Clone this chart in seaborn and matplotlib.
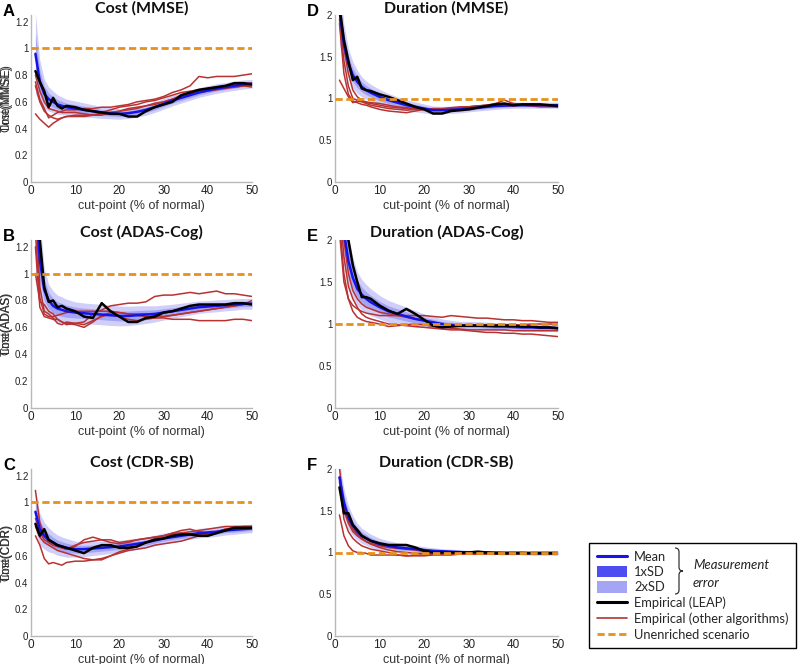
import matplotlib
matplotlib.use("Agg")
import matplotlib.pyplot as plt
import seaborn as sns
import numpy as np
from matplotlib.lines import Line2D
from matplotlib.patches import Patch, PathPatch
from matplotlib.path import Path

# ---------------- data ----------------
cut_points = [1, 2, 3, 4, 5, 6, 7, 8, 10, 12, 14, 16, 18, 20, 22, 24, 26, 28, 30,
              32, 34, 36, 38, 40, 42, 44, 46, 48, 50]
unenriched_level = 1.0

cost_mmse_mean = [0.96, 0.75, 0.66, 0.62, 0.60, 0.58, 0.57, 0.56, 0.55, 0.54, 0.53, 0.52, 0.515, 0.51, 0.515, 0.525, 0.54, 0.56, 0.585, 0.61, 0.63, 0.65, 0.67, 0.685, 0.70, 0.71, 0.72, 0.73, 0.735]
cost_mmse_sd = [0.15, 0.08, 0.055, 0.045, 0.04, 0.036, 0.033, 0.03, 0.028, 0.026, 0.024, 0.022, 0.021, 0.02, 0.02, 0.02, 0.02, 0.02, 0.02, 0.02, 0.019, 0.019, 0.018, 0.018, 0.018, 0.017, 0.017, 0.017, 0.016]
cost_mmse_leap = [0.83, 0.75, 0.68, 0.56, 0.63, 0.57, 0.55, 0.57, 0.56, 0.54, 0.53, 0.52, 0.51, 0.51, 0.49, 0.49, 0.53, 0.56, 0.58, 0.60, 0.65, 0.67, 0.69, 0.70, 0.71, 0.72, 0.74, 0.74, 0.73]
cost_mmse_other = [
    [0.75, 0.62, 0.55, 0.48, 0.50, 0.52, 0.53, 0.54, 0.54, 0.55, 0.55, 0.56, 0.56, 0.57, 0.58, 0.60, 0.61, 0.62, 0.64, 0.67, 0.69, 0.72, 0.79, 0.78, 0.79, 0.79, 0.79, 0.80, 0.81],
    [0.51, 0.47, 0.44, 0.41, 0.44, 0.46, 0.48, 0.49, 0.50, 0.50, 0.50, 0.52, 0.54, 0.56, 0.57, 0.58, 0.60, 0.61, 0.63, 0.65, 0.67, 0.68, 0.69, 0.70, 0.71, 0.72, 0.73, 0.74, 0.74],
    [0.80, 0.68, 0.60, 0.55, 0.54, 0.53, 0.52, 0.52, 0.52, 0.51, 0.50, 0.50, 0.52, 0.53, 0.55, 0.56, 0.57, 0.58, 0.60, 0.62, 0.64, 0.66, 0.68, 0.69, 0.70, 0.71, 0.71, 0.72, 0.72],
    [0.72, 0.60, 0.53, 0.50, 0.48, 0.47, 0.48, 0.49, 0.49, 0.49, 0.50, 0.51, 0.52, 0.53, 0.54, 0.55, 0.57, 0.59, 0.60, 0.62, 0.65, 0.66, 0.67, 0.68, 0.69, 0.70, 0.71, 0.72, 0.71],
]

cost_adas_mean = [1.60, 1.10, 0.88, 0.80, 0.76, 0.74, 0.73, 0.72, 0.71, 0.705, 0.70, 0.695, 0.69, 0.685, 0.685, 0.69, 0.695, 0.70, 0.71, 0.72, 0.73, 0.74, 0.75, 0.755, 0.76, 0.765, 0.77, 0.775, 0.775]
cost_adas_sd = [0.30, 0.15, 0.08, 0.06, 0.055, 0.05, 0.048, 0.045, 0.04, 0.038, 0.038, 0.038, 0.038, 0.037, 0.036, 0.035, 0.033, 0.03, 0.028, 0.026, 0.025, 0.024, 0.023, 0.022, 0.022, 0.021, 0.021, 0.02, 0.02]
cost_adas_leap = [1.60, 1.25, 0.90, 0.79, 0.80, 0.75, 0.76, 0.74, 0.72, 0.68, 0.67, 0.78, 0.72, 0.68, 0.64, 0.64, 0.67, 0.68, 0.71, 0.72, 0.74, 0.76, 0.77, 0.77, 0.77, 0.77, 0.78, 0.78, 0.77]
cost_adas_other = [
    [1.00, 0.79, 0.77, 0.72, 0.70, 0.66, 0.64, 0.63, 0.62, 0.60, 0.64, 0.69, 0.71, 0.71, 0.70, 0.69, 0.68, 0.67, 0.67, 0.66, 0.66, 0.66, 0.65, 0.65, 0.65, 0.65, 0.66, 0.66, 0.65],
    [1.20, 0.75, 0.68, 0.67, 0.66, 0.66, 0.64, 0.62, 0.63, 0.64, 0.70, 0.73, 0.76, 0.77, 0.78, 0.78, 0.79, 0.83, 0.84, 0.84, 0.85, 0.86, 0.85, 0.86, 0.87, 0.85, 0.85, 0.84, 0.83],
    [1.30, 0.82, 0.70, 0.68, 0.68, 0.69, 0.70, 0.71, 0.72, 0.72, 0.72, 0.72, 0.72, 0.71, 0.70, 0.70, 0.70, 0.69, 0.68, 0.69, 0.70, 0.71, 0.72, 0.73, 0.74, 0.75, 0.76, 0.77, 0.80],
    [1.50, 0.90, 0.72, 0.70, 0.67, 0.63, 0.62, 0.64, 0.63, 0.62, 0.65, 0.68, 0.70, 0.68, 0.66, 0.65, 0.66, 0.67, 0.68, 0.69, 0.70, 0.71, 0.72, 0.73, 0.74, 0.75, 0.76, 0.77, 0.78],
]

cost_cdr_mean = [0.93, 0.80, 0.75, 0.72, 0.70, 0.68, 0.67, 0.66, 0.65, 0.65, 0.655, 0.66, 0.665, 0.67, 0.68, 0.69, 0.70, 0.715, 0.73, 0.74, 0.75, 0.76, 0.77, 0.775, 0.78, 0.79, 0.795, 0.80, 0.805]
cost_cdr_sd = [0.07, 0.06, 0.05, 0.045, 0.04, 0.038, 0.036, 0.035, 0.03, 0.028, 0.026, 0.025, 0.024, 0.023, 0.022, 0.021, 0.02, 0.02, 0.02, 0.019, 0.019, 0.018, 0.018, 0.018, 0.017, 0.017, 0.017, 0.016, 0.016]
cost_cdr_leap = [0.84, 0.75, 0.80, 0.72, 0.70, 0.68, 0.67, 0.66, 0.64, 0.62, 0.66, 0.68, 0.68, 0.66, 0.66, 0.67, 0.70, 0.72, 0.73, 0.75, 0.76, 0.76, 0.75, 0.75, 0.77, 0.79, 0.81, 0.81, 0.81]
cost_cdr_other = [
    [1.09, 0.85, 0.75, 0.70, 0.68, 0.67, 0.66, 0.65, 0.68, 0.70, 0.71, 0.72, 0.72, 0.70, 0.71, 0.72, 0.73, 0.74, 0.75, 0.76, 0.77, 0.78, 0.79, 0.80, 0.81, 0.82, 0.82, 0.82, 0.82],
    [0.75, 0.68, 0.58, 0.54, 0.55, 0.54, 0.53, 0.55, 0.56, 0.56, 0.57, 0.58, 0.60, 0.62, 0.64, 0.65, 0.66, 0.68, 0.69, 0.70, 0.71, 0.73, 0.75, 0.76, 0.78, 0.80, 0.81, 0.82, 0.82],
    [0.82, 0.74, 0.70, 0.68, 0.66, 0.64, 0.63, 0.62, 0.60, 0.58, 0.57, 0.57, 0.60, 0.63, 0.65, 0.67, 0.70, 0.73, 0.75, 0.77, 0.77, 0.76, 0.76, 0.77, 0.78, 0.79, 0.80, 0.81, 0.82],
    [0.88, 0.78, 0.72, 0.70, 0.68, 0.67, 0.66, 0.65, 0.67, 0.72, 0.74, 0.72, 0.70, 0.69, 0.70, 0.72, 0.73, 0.74, 0.75, 0.77, 0.79, 0.80, 0.78, 0.77, 0.78, 0.80, 0.81, 0.81, 0.81],
]

time_mmse_mean = [2.05, 1.65, 1.42, 1.28, 1.20, 1.14, 1.10, 1.07, 1.02, 0.98, 0.95, 0.92, 0.90, 0.88, 0.86, 0.86, 0.865, 0.87, 0.88, 0.89, 0.90, 0.91, 0.915, 0.92, 0.92, 0.92, 0.92, 0.92, 0.92]
time_mmse_sd = [0.20, 0.12, 0.09, 0.08, 0.07, 0.06, 0.055, 0.05, 0.045, 0.04, 0.035, 0.032, 0.03, 0.027, 0.025, 0.023, 0.022, 0.021, 0.02, 0.02, 0.02, 0.02, 0.019, 0.019, 0.018, 0.018, 0.018, 0.018, 0.018]
time_mmse_leap = [2.10, 1.70, 1.45, 1.22, 1.26, 1.12, 1.10, 1.09, 1.05, 1.02, 0.98, 0.94, 0.90, 0.87, 0.82, 0.82, 0.85, 0.86, 0.87, 0.89, 0.91, 0.93, 0.94, 0.92, 0.93, 0.93, 0.93, 0.92, 0.91]
time_mmse_other = [
    [1.22, 1.12, 1.02, 0.95, 0.97, 0.96, 0.94, 0.92, 0.90, 0.88, 0.87, 0.86, 0.87, 0.88, 0.87, 0.87, 0.88, 0.89, 0.90, 0.91, 0.92, 0.94, 0.98, 0.94, 0.93, 0.92, 0.92, 0.92, 0.91],
    [1.90, 1.30, 1.05, 0.97, 0.95, 0.93, 0.92, 0.90, 0.87, 0.85, 0.84, 0.83, 0.85, 0.87, 0.88, 0.88, 0.89, 0.90, 0.90, 0.91, 0.91, 0.92, 0.92, 0.92, 0.92, 0.91, 0.90, 0.90, 0.90],
    [2.05, 1.60, 1.30, 1.10, 1.02, 0.98, 0.95, 0.94, 0.92, 0.90, 0.89, 0.88, 0.87, 0.87, 0.86, 0.87, 0.88, 0.89, 0.90, 0.91, 0.92, 0.92, 0.93, 0.93, 0.93, 0.93, 0.92, 0.92, 0.91],
    [1.95, 1.45, 1.15, 1.00, 0.98, 0.97, 0.96, 0.95, 0.94, 0.92, 0.90, 0.89, 0.88, 0.87, 0.87, 0.87, 0.88, 0.89, 0.89, 0.90, 0.91, 0.91, 0.91, 0.91, 0.92, 0.92, 0.92, 0.91, 0.90],
]

time_adas_mean = [2.60, 2.10, 1.75, 1.55, 1.42, 1.35, 1.30, 1.26, 1.20, 1.15, 1.12, 1.09, 1.06, 1.04, 1.02, 1.00, 0.99, 0.98, 0.98, 0.98, 0.975, 0.97, 0.97, 0.965, 0.96, 0.96, 0.955, 0.955, 0.95]
time_adas_sd = [0.30, 0.20, 0.15, 0.12, 0.10, 0.09, 0.085, 0.08, 0.07, 0.065, 0.06, 0.055, 0.05, 0.04, 0.035, 0.03, 0.027, 0.025, 0.025, 0.024, 0.024, 0.023, 0.023, 0.022, 0.022, 0.022, 0.021, 0.021, 0.02]
time_adas_leap = [2.60, 2.30, 2.00, 1.70, 1.50, 1.32, 1.32, 1.30, 1.22, 1.16, 1.12, 1.18, 1.12, 1.05, 0.98, 0.96, 0.97, 0.98, 0.98, 0.98, 0.98, 0.98, 0.98, 0.98, 0.97, 0.97, 0.96, 0.96, 0.95]
time_adas_other = [
    [2.10, 1.50, 1.30, 1.22, 1.18, 1.15, 1.13, 1.12, 1.10, 1.10, 1.10, 1.10, 1.10, 1.10, 1.09, 1.08, 1.10, 1.09, 1.08, 1.07, 1.07, 1.06, 1.05, 1.05, 1.04, 1.04, 1.03, 1.02, 1.02],
    [2.40, 1.80, 1.45, 1.30, 1.20, 1.12, 1.08, 1.06, 1.03, 1.00, 0.99, 0.98, 0.97, 0.96, 0.95, 0.94, 0.93, 0.93, 0.92, 0.91, 0.90, 0.90, 0.89, 0.89, 0.88, 0.88, 0.87, 0.86, 0.85],
    [2.20, 1.60, 1.30, 1.15, 1.08, 1.05, 1.03, 1.02, 1.00, 0.97, 0.98, 0.99, 1.00, 0.99, 0.97, 0.96, 0.95, 0.94, 0.93, 0.93, 0.93, 0.93, 0.93, 0.92, 0.92, 0.92, 0.92, 0.92, 0.92],
    [2.50, 2.00, 1.60, 1.40, 1.30, 1.24, 1.20, 1.18, 1.14, 1.12, 1.10, 1.08, 1.06, 1.04, 1.02, 1.00, 0.99, 0.99, 0.99, 0.99, 0.99, 0.99, 0.99, 0.99, 0.99, 1.00, 1.00, 1.00, 1.00],
]

time_cdr_mean = [1.90, 1.60, 1.42, 1.32, 1.25, 1.20, 1.17, 1.14, 1.10, 1.08, 1.06, 1.05, 1.04, 1.03, 1.02, 1.015, 1.01, 1.005, 1.00, 1.00, 1.00, 1.00, 0.995, 0.995, 0.995, 0.99, 0.99, 0.99, 0.99]
time_cdr_sd = [0.10, 0.08, 0.07, 0.06, 0.05, 0.045, 0.042, 0.04, 0.035, 0.03, 0.028, 0.025, 0.022, 0.02, 0.018, 0.016, 0.015, 0.014, 0.013, 0.013, 0.012, 0.012, 0.012, 0.012, 0.012, 0.012, 0.012, 0.012, 0.012]
time_cdr_leap = [1.78, 1.47, 1.47, 1.33, 1.27, 1.20, 1.17, 1.14, 1.11, 1.09, 1.09, 1.09, 1.06, 1.02, 1.00, 1.00, 1.00, 1.00, 1.00, 1.01, 1.00, 0.99, 0.99, 0.99, 0.99, 0.99, 0.99, 0.99, 0.99]
time_cdr_other = [
    [2.02, 1.50, 1.35, 1.25, 1.20, 1.16, 1.13, 1.11, 1.08, 1.06, 1.05, 1.04, 1.03, 1.01, 1.00, 0.99, 0.99, 0.99, 0.99, 0.99, 0.99, 0.99, 1.00, 1.00, 1.00, 1.00, 1.00, 1.00, 1.00],
    [1.45, 1.20, 1.08, 1.02, 1.00, 1.00, 0.99, 0.97, 0.97, 0.97, 0.97, 0.96, 0.96, 0.96, 0.97, 0.97, 0.97, 0.98, 0.98, 0.98, 0.98, 0.98, 0.98, 0.98, 0.99, 0.99, 0.99, 0.99, 0.99],
    [1.85, 1.40, 1.25, 1.17, 1.12, 1.08, 1.06, 1.04, 1.02, 1.00, 0.97, 0.96, 0.97, 0.97, 0.98, 0.98, 0.98, 0.99, 0.99, 0.99, 0.99, 0.99, 0.99, 0.99, 0.99, 1.00, 1.00, 1.00, 1.00],
    [1.90, 1.55, 1.38, 1.28, 1.22, 1.17, 1.13, 1.10, 1.06, 1.03, 1.01, 1.00, 0.99, 0.99, 0.99, 0.99, 0.99, 0.99, 0.99, 0.99, 0.99, 1.00, 1.00, 1.00, 1.00, 1.00, 1.00, 1.00, 1.00],
]

x_ticks = [0, 10, 20, 30, 40, 50]
cost_ticks = [0, 0.2, 0.4, 0.6, 0.8, 1.0, 1.2]
cost_tick_labels = ["0", "0.2", "0.4", "0.6", "0.8", "1", "1.2"]
time_ticks = [0, 0.5, 1.0, 1.5, 2.0]
time_tick_labels = ["0", "0.5", "1", "1.5", "2"]

panel_letters = ["A", "B", "C", "D", "E", "F"]
panel_titles = ["Cost (MMSE)", "Cost (ADAS-Cog)", "Cost (CDR-SB)",
                "Duration (MMSE)", "Duration (ADAS-Cog)", "Duration (CDR-SB)"]
panel_ylabels = ["Cost(MMSE)", "Cost(ADAS)", "Cost(CDR)",
                 "Time(MMSE)", "Time(ADAS)", "Time(CDR)"]
legend_labels = ["Mean", "1xSD", "2xSD", "Empirical (LEAP)",
                 "Empirical (other algorithms)", "Unenriched scenario"]

# ---------------- style ----------------
sns.set_theme(style="white")
plt.rcParams["font.family"] = ["Liberation Sans", "DejaVu Sans"]

C_MEAN = "#1414e8"
C_1SD = "#4d4df2"
C_2SD = "#a5a5f5"
C_LEAP = "#000000"
C_OTHER = "#b83232"
C_UNENR = "#e8901c"
AX_GRAY = "#b8b8b8"

W, H = 800, 664
fig = plt.figure(figsize=(W / 100, H / 100), dpi=100)


def px_rect(l, r, t, b):
    return [l / W, 1 - b / H, (r - l) / W, (b - t) / H]


cols = [(31, 252), (335, 558)]
rows = [(15, 182), (240, 408), (469, 636)]

series = [
    (cost_mmse_mean, cost_mmse_sd, cost_mmse_leap, cost_mmse_other),
    (cost_adas_mean, cost_adas_sd, cost_adas_leap, cost_adas_other),
    (cost_cdr_mean, cost_cdr_sd, cost_cdr_leap, cost_cdr_other),
    (time_mmse_mean, time_mmse_sd, time_mmse_leap, time_mmse_other),
    (time_adas_mean, time_adas_sd, time_adas_leap, time_adas_other),
    (time_cdr_mean, time_cdr_sd, time_cdr_leap, time_cdr_other),
]

x = np.array(cut_points, dtype=float)
for i, (mean, sd, leap, others) in enumerate(series):
    c, r = divmod(i, 3)
    l, rr = cols[c]
    t, b = rows[r]
    ax = fig.add_axes(px_rect(l, rr, t, b))
    m = np.array(mean)
    s = np.array(sd)
    ax.fill_between(x, m - 2 * s, m + 2 * s, color="#cfcff9", lw=0, zorder=1)
    ax.fill_between(x, m - s, m + s, color="#a4a4f4", lw=0, zorder=1.1)
    for o in others:
        sns.lineplot(x=x, y=o, ax=ax, color=C_OTHER, lw=1.1, zorder=2, legend=False)
    sns.lineplot(x=x, y=m, ax=ax, color=C_MEAN, lw=1.8, zorder=3, legend=False)
    sns.lineplot(x=x, y=leap, ax=ax, color=C_LEAP, lw=1.8, zorder=4, legend=False)
    ax.axhline(unenriched_level, color=C_UNENR, lw=2.0, ls=(0, (2.6, 1.3)), zorder=5)

    ax.set_xlim(0, 50)
    ax.set_xticks(x_ticks)
    if c == 0:
        ax.set_ylim(0, 1.25)
        ax.set_yticks(cost_ticks)
        ax.set_yticklabels(cost_tick_labels)
    else:
        ax.set_ylim(0, 2.0)
        ax.set_yticks(time_ticks)
        ax.set_yticklabels(time_tick_labels)
    for sp in ["top", "right"]:
        ax.spines[sp].set_visible(False)
    for sp in ["left", "bottom"]:
        ax.spines[sp].set_color(AX_GRAY)
        ax.spines[sp].set_linewidth(1.0)
    ax.tick_params(direction="in", length=3, width=0.8, color=AX_GRAY,
                   labelcolor="#222222")
    ax.tick_params(axis="x", labelsize=8.5, pad=2)
    ax.tick_params(axis="y", labelsize=7, pad=2)
    ax.set_xlabel("cut-point (% of normal)", fontsize=9, color="#333333", labelpad=2)
    ax.set_ylabel(panel_ylabels[i], fontsize=8.3, color="#333333")
    ax.yaxis.set_label_coords((12.5 - l) / (rr - l), 0.5)
    ax.set_title(panel_titles[i], fontsize=11.5, fontweight="bold",
                 family=["Lato", "DejaVu Sans"], color="#111111", pad=2)
    fig.text((l - 28) / W, 1 - (t - 11) / H, panel_letters[i], fontsize=12,
             fontweight="bold", va="top", ha="left", color="#000000")

# ---------------- legend ----------------
handles = [
    Line2D([], [], color=C_MEAN, lw=2.2),
    Patch(facecolor=C_1SD, edgecolor="none"),
    Patch(facecolor=C_2SD, edgecolor="none"),
    Line2D([], [], color=C_LEAP, lw=2.2),
    Line2D([], [], color=C_OTHER, lw=1.2),
    Line2D([], [], color=C_UNENR, lw=2.0, ls=(0, (2.6, 1.3))),
]
leg = fig.legend(handles, legend_labels, loc="upper left",
                 bbox_to_anchor=(589 / W, 1 - 543 / H), borderaxespad=0,
                 frameon=True, fancybox=False, edgecolor="#000000", framealpha=1,
                 handlelength=2.35, handleheight=0.95,
                 handletextpad=0.55, labelspacing=0.26, borderpad=0.6,
                 prop={"family": ["Lato", "DejaVu Sans"], "size": 9.3})
leg.get_frame().set_linewidth(1.0)
leg.set_zorder(5)

# brace and "Measurement error"
bx = [(675, 548), (679, 548), (679, 552), (679, 567), (679, 571), (683, 571),
      (679, 571), (679, 575), (679, 590), (679, 594), (675, 594)]
codes = [Path.MOVETO, Path.CURVE3, Path.CURVE3, Path.LINETO, Path.CURVE3, Path.CURVE3,
         Path.CURVE3, Path.CURVE3, Path.LINETO, Path.CURVE3, Path.CURVE3]
verts = [(px / W, 1 - py / H) for px, py in bx]
fig.add_artist(PathPatch(Path(verts, codes), transform=fig.transFigure, fill=False,
                         lw=0.9, edgecolor="#333333", zorder=10))
fig.text(693 / W, 1 - 565 / H, "Measurement", style="italic", fontsize=9.5,
         family=["Lato", "DejaVu Sans"], va="center", ha="left", color="#222222",
         zorder=10)
fig.text(693 / W, 1 - 583 / H, "error", style="italic", fontsize=9.5,
         family=["Lato", "DejaVu Sans"], va="center", ha="left", color="#222222",
         zorder=10)

fig.savefig("out.png", dpi=100, facecolor="white")
